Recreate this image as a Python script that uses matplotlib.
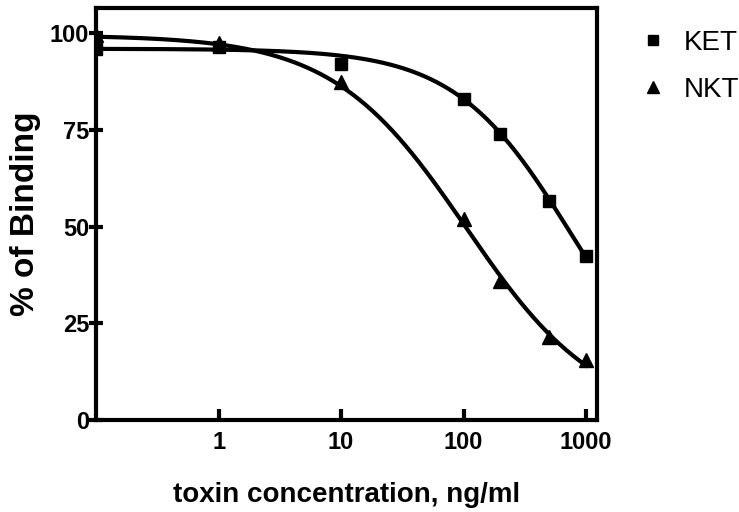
import numpy as np
import matplotlib
matplotlib.use("Agg")
import matplotlib.pyplot as plt

# concentrations (ng/ml) and % binding
conc = [0.1, 1, 10, 100, 200, 500, 1000]
ket = [96, 96.5, 92, 83, 74, 56.5, 42.5]
nkt = [99.5, 97.5, 87.5, 52, 36, 21.5, 15.5]

# fitted logistic curve parameters (top, bottom, logIC50, hill)
ket_fit = (96.0, 0.0, 2.88, 0.914)
nkt_fit = (99.5, 0.0, 2.02, 0.80)

xticks = [1, 10, 100, 1000]
xtick_labels = ["1", "10", "100", "1000"]
yticks = [0, 25, 50, 75, 100]


def logistic(x, top, bottom, logc, hill):
    return bottom + (top - bottom) / (1 + 10 ** (hill * (np.log10(x) - logc)))


plt.rcParams['font.family'] = ['Liberation Sans', 'DejaVu Sans']

fig = plt.figure(figsize=(7.39, 5.12), dpi=100)
ax = fig.add_axes([0.130, 0.180, 0.678, 0.804])

xs = np.logspace(-1, 3, 300)
ax.plot(xs, logistic(xs, *ket_fit), color='black', lw=3)
ax.plot(xs, logistic(xs, *nkt_fit), color='black', lw=3)
ax.plot(conc, ket, 's', color='black', ms=9, label='KET')
ax.plot(conc, nkt, '^', color='black', ms=10, label='NKT')

ax.set_xscale('log')
ax.set_xlim(0.1, 1230)
ax.set_ylim(0, 106.5)
ax.set_xticks(xticks)
ax.set_xticklabels(xtick_labels)
ax.minorticks_off()
ax.set_yticks(yticks)

for s in ax.spines.values():
    s.set_linewidth(3)
ax.tick_params(axis='x', direction='in', length=8, width=3, pad=8,
               labelsize=17)
ax.tick_params(axis='y', direction='inout', length=10, width=3, pad=0,
               labelsize=17)
for lab in ax.get_xticklabels() + ax.get_yticklabels():
    lab.set_fontweight('bold')

ax.set_xlabel('toxin concentration, ng/ml', fontsize=20, fontweight='bold',
              labelpad=20)
ax.set_ylabel('% of Binding', fontsize=24, fontweight='bold', labelpad=6)

ax.legend(loc='upper left', bbox_to_anchor=(1.04, 1.008), frameon=False,
          fontsize=20, handlelength=0.8, handletextpad=0.7, labelspacing=0.75,
          markerscale=0.8)

fig.savefig('out.png', dpi=100)
